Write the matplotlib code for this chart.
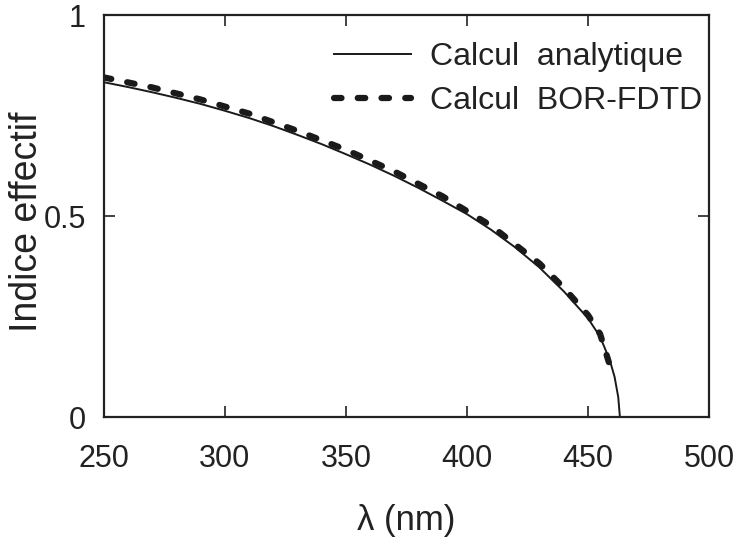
import matplotlib.pyplot as plt

plt.rcParams['font.family'] = ['Liberation Sans', 'DejaVu Sans']

# Analytic curve
lam_ana = [250, 260, 270, 280, 290, 300, 310, 320, 330, 340, 350, 360, 370, 380,
           390, 400, 410, 420, 430, 440, 450, 455, 459, 461, 462.5, 463.2]
n_ana = [0.833, 0.821, 0.808, 0.794, 0.779, 0.762, 0.744, 0.724, 0.702, 0.679,
         0.654, 0.628, 0.600, 0.570, 0.538, 0.505, 0.466, 0.422, 0.372, 0.313,
         0.246, 0.200, 0.142, 0.100, 0.050, 0.0]

# BOR-FDTD curve
lam_fdtd = [250, 270, 290, 310, 330, 350, 370, 390, 410, 430, 440, 450, 455, 460]
n_fdtd = [0.845, 0.820, 0.790, 0.755, 0.712, 0.665, 0.611, 0.549, 0.476, 0.382,
          0.322, 0.254, 0.207, 0.110]

fig = plt.figure(figsize=(7.37, 5.39), dpi=100)
ax = fig.add_axes([0.141, 0.226, 0.821, 0.746])

ax.plot(lam_ana, n_ana, color='#1a1a1a', lw=1.4, label='Calcul  analytique')
ax.plot(lam_fdtd, n_fdtd, color='#1a1a1a', lw=4.5, linestyle=(0, (1.2, 2.6)),
        dash_capstyle='round', label='Calcul  BOR-FDTD')

ax.set_xlim(250, 500)
ax.set_ylim(0, 1)
ax.set_xticks([250, 300, 350, 400, 450, 500])
ax.set_yticks([0, 0.5, 1])
ax.set_yticklabels(['0', '0.5', '1'])
ax.tick_params(direction='in', length=8, width=1.2, top=True, right=True,
               labelsize=22, colors='#222222')
ax.tick_params(axis='x', pad=19)
ax.tick_params(axis='y', pad=13)
for s in ax.spines.values():
    s.set_linewidth(1.6)
    s.set_color('#222222')

ax.set_xlabel('λ (nm)', fontsize=25, color='#222222', labelpad=22)
fig.text(27 / 737, 0.588, 'Indice effectif', rotation=90, ha='center',
         va='center', fontsize=27, color='#222222')

ax.legend(loc='upper right', bbox_to_anchor=(1.01, 0.965), frameon=False,
          fontsize=23, handlelength=2.4, handletextpad=0.6, labelspacing=0.45,
          borderaxespad=0, labelcolor='#222222')

fig.savefig('out.png', dpi=100)
